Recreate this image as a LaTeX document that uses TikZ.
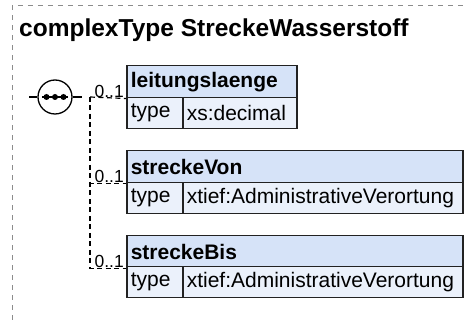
\documentclass[tikz,border=0pt]{standalone}
\usepackage{fontspec}
\setmainfont{Liberation Sans}
\definecolor{hdrfill}{HTML}{D6E3F8}
\definecolor{typfill}{HTML}{EBF1FB}
\definecolor{boxline}{HTML}{222222}
\definecolor{framegray}{HTML}{8C8C8C}
\tikzset{
  hdrbox/.style={draw=boxline, line width=1.5pt, fill=hdrfill, anchor=north west,
    minimum height=32pt, inner xsep=4pt, inner ysep=0pt, align=left,
    font=\bfseries\fontsize{21}{24}\selectfont},
  typbox/.style={draw=boxline, line width=1.5pt, fill=typfill, anchor=north west,
    minimum height=31pt, inner xsep=4pt, inner ysep=0pt, align=left,
    font=\fontsize{21}{24}\selectfont},
  conn/.style={draw=black, line width=1.2pt, dash pattern=on 5pt off 3.5pt},
  mult/.style={anchor=south east, inner sep=1pt, font=\fontsize{17.5}{20}\selectfont},
  frameline/.style={draw=framegray, line width=1pt, dash pattern=on 5pt off 5pt},
}
\begin{document}
\begin{tikzpicture}[x=1pt,y=-1pt]
\useasboundingbox (0,0) rectangle (464,320);
% outer frame
\draw[frameline] (12,320) -- (12,6) -- (464,6);
% title
\node[anchor=base west, inner sep=0pt, font=\bfseries\fontsize{24.5}{28}\selectfont] (title) at (19,37) {complexType StreckeWasserstoff};
% boxes
\node[hdrbox, text width=162pt] (h1) at (126,65) {leitungslaenge};
\node[typbox, text width=48pt] (t1) at (126,97) {type};
\node[typbox, text width=106pt] (v1) at (182,97) {xs:decimal};
\node[hdrbox, text width=328pt] (h2) at (126,150) {streckeVon};
\node[typbox, text width=48pt] (t2) at (126,182) {type};
\node[typbox, text width=272pt] (v2) at (182,182) {xtief:AdministrativeVerortung};
\node[hdrbox, text width=328pt] (h3) at (126,235) {streckeBis};
\node[typbox, text width=48pt] (t3) at (126,266) {type};
\node[typbox, text width=272pt] (v3) at (182,266) {xtief:AdministrativeVerortung};
% sequence compositor
\node[draw=black, line width=1.3pt, circle, fill=white, minimum size=34pt, inner sep=0pt] (seq) at (55,97) {};
\coordinate (tl) at (29,97);
\coordinate (tr) at (82,97);
\draw[line width=1.3pt] (tl) -- (seq.west);
\draw[line width=1.3pt] (seq.east) -- (tr);
\draw[line width=1.6pt] ([xshift=-13pt]seq.center) -- ([xshift=13pt]seq.center);
\fill ([xshift=-8.5pt]seq.center) circle (3pt);
\fill (seq.center) circle (3pt);
\fill ([xshift=8.5pt]seq.center) circle (3pt);
% branch
\coordinate (br) at (90,97);
\draw[conn] (br) -- (h1.south west);
\draw[conn] (br) |- (h2.south west);
\draw[conn] (br) |- (h3.south west);
\node[mult] (m1) at ([xshift=-1pt]h1.south west) {0..1};
\node[mult] (m2) at ([xshift=-1pt]h2.south west) {0..1};
\node[mult] (m3) at ([xshift=-1pt]h3.south west) {0..1};
\end{tikzpicture}
\end{document}
